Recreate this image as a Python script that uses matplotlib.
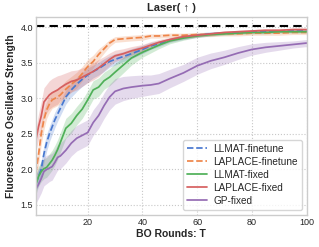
import numpy as np
import matplotlib
matplotlib.use("Agg")
import matplotlib.pyplot as plt
import seaborn as sns

sns.set_theme(style="whitegrid")
plt.rcParams['font.family'] = ['Liberation Sans', 'DejaVu Sans']

# BO rounds
rounds = [1, 2, 3, 4, 5, 6, 7, 8, 9, 10, 12, 14, 16, 18, 20, 22, 24, 26, 28, 30,
          33, 36, 40, 43, 46, 50, 55, 60, 65, 70, 75, 80, 85, 90, 95, 100]

llmat_ft = [1.80, 1.90, 2.00, 2.22, 2.38, 2.50, 2.60, 2.70, 2.78, 2.86, 3.02, 3.12, 3.20, 3.27, 3.33, 3.38, 3.42, 3.47, 3.52, 3.55,
            3.59, 3.63, 3.69, 3.74, 3.77, 3.82, 3.86, 3.89, 3.91, 3.92, 3.93, 3.94, 3.94, 3.95, 3.95, 3.95]
llmat_ft_sd = [0.12, 0.12, 0.12, 0.12, 0.12, 0.11, 0.11, 0.11, 0.10, 0.10, 0.10, 0.10, 0.10, 0.10, 0.10, 0.09, 0.09, 0.09, 0.08, 0.08,
               0.07, 0.07, 0.06, 0.05, 0.04, 0.03, 0.03, 0.03, 0.03, 0.02, 0.02, 0.02, 0.02, 0.02, 0.02, 0.02]

laplace_ft = [1.95, 2.20, 2.50, 2.70, 2.84, 2.92, 2.98, 3.00, 3.02, 3.05, 3.13, 3.20, 3.26, 3.35, 3.45, 3.52, 3.62, 3.70, 3.78, 3.83,
              3.84, 3.85, 3.86, 3.88, 3.88, 3.89, 3.89, 3.90, 3.90, 3.91, 3.91, 3.92, 3.92, 3.92, 3.93, 3.93]
laplace_ft_sd = [0.15, 0.15, 0.15, 0.14, 0.12, 0.12, 0.12, 0.12, 0.12, 0.12, 0.12, 0.11, 0.11, 0.10, 0.10, 0.09, 0.08, 0.06, 0.05, 0.04,
                 0.04, 0.04, 0.04, 0.03, 0.03, 0.03, 0.03, 0.03, 0.03, 0.03, 0.03, 0.03, 0.03, 0.03, 0.03, 0.03]

llmat_fx = [1.78, 1.90, 1.97, 2.01, 2.03, 2.08, 2.13, 2.20, 2.28, 2.38, 2.58, 2.65, 2.76, 2.85, 2.98, 3.12, 3.16, 3.25, 3.30, 3.37,
            3.47, 3.57, 3.65, 3.70, 3.75, 3.81, 3.85, 3.88, 3.90, 3.91, 3.92, 3.93, 3.93, 3.94, 3.94, 3.94]
llmat_fx_sd = [0.14, 0.14, 0.14, 0.14, 0.14, 0.14, 0.14, 0.14, 0.14, 0.14, 0.14, 0.14, 0.13, 0.13, 0.13, 0.13, 0.13, 0.12, 0.12, 0.12,
               0.11, 0.10, 0.07, 0.06, 0.05, 0.04, 0.03, 0.02, 0.02, 0.02, 0.02, 0.02, 0.02, 0.02, 0.02, 0.02]

laplace_fx = [2.40, 2.60, 2.75, 2.95, 3.00, 3.05, 3.08, 3.10, 3.12, 3.15, 3.20, 3.24, 3.26, 3.30, 3.34, 3.38, 3.43, 3.49, 3.55, 3.60,
              3.63, 3.67, 3.71, 3.75, 3.79, 3.83, 3.87, 3.89, 3.91, 3.93, 3.94, 3.95, 3.96, 3.96, 3.97, 3.97]
laplace_fx_sd = [0.15, 0.18, 0.20, 0.20, 0.20, 0.20, 0.20, 0.20, 0.20, 0.18, 0.16, 0.15, 0.14, 0.13, 0.12, 0.12, 0.12, 0.10, 0.09, 0.08,
                 0.07, 0.06, 0.05, 0.05, 0.04, 0.03, 0.03, 0.025, 0.02, 0.02, 0.02, 0.02, 0.02, 0.02, 0.02, 0.02]

gp_fx = [1.72, 1.79, 1.87, 1.97, 2.00, 2.02, 2.04, 2.10, 2.17, 2.19, 2.27, 2.37, 2.44, 2.48, 2.52, 2.66, 2.76, 2.90, 3.02, 3.10,
         3.14, 3.16, 3.18, 3.19, 3.21, 3.28, 3.36, 3.46, 3.53, 3.58, 3.64, 3.69, 3.72, 3.74, 3.76, 3.78]
gp_fx_sd = [0.20, 0.20, 0.20, 0.20, 0.20, 0.19, 0.19, 0.18, 0.18, 0.18, 0.18, 0.18, 0.18, 0.18, 0.18, 0.18, 0.18, 0.18, 0.18, 0.18,
            0.17, 0.16, 0.15, 0.14, 0.14, 0.13, 0.12, 0.12, 0.11, 0.10, 0.09, 0.08, 0.07, 0.06, 0.05, 0.05]

best_value = 4.02

pal = sns.color_palette("muted")
series = [
    ("LLMAT-finetune", llmat_ft, llmat_ft_sd, pal[0], "--"),
    ("LAPLACE-finetune", laplace_ft, laplace_ft_sd, pal[1], "--"),
    ("LLMAT-fixed", llmat_fx, llmat_fx_sd, "#4fb058", "-"),
    ("LAPLACE-fixed", laplace_fx, laplace_fx_sd, pal[3], "-"),
    ("GP-fixed", gp_fx, gp_fx_sd, pal[4], "-"),
]

fig = plt.figure(figsize=(3.19, 2.47), dpi=100)
ax = fig.add_axes([0.112, 0.130, 0.849, 0.802])

x = np.array(rounds)
for name, m, s, c, ls in series:
    m = np.array(m)
    s = np.array(s)
    ax.fill_between(x, m - s, m + s, color=c, alpha=0.25, lw=0)
    ax.plot(x, m, ls, color=c, lw=1.25, label=name)

ax.axhline(best_value, color='black', ls='--', lw=1.5, dashes=(4, 2.5))

ax.set_xlim(1, 100)
ax.set_ylim(1.36, 4.15)
ax.set_xticks([20, 40, 60, 80, 100])
ax.set_yticks([1.5, 2.0, 2.5, 3.0, 3.5, 4.0])
ax.tick_params(labelsize=6.5, pad=2, length=0)
ax.grid(True, ls=':', lw=0.8, color='#c8c8c8')
for sp in ax.spines.values():
    sp.set_color('#cccccc')
    sp.set_linewidth(1.0)

ax.set_title("Laser( \u2191 )", fontsize=8, fontweight='bold', pad=4)
ax.set_xlabel("BO Rounds: T", fontsize=7.5, fontweight='bold', labelpad=2)
ax.set_ylabel("Fluorescence Oscillator Strength", fontsize=7.5, fontweight='bold', labelpad=3)

ax.legend(loc='lower right', fontsize=7.2, handlelength=2.0, labelspacing=0.3,
          borderpad=0.4, handletextpad=0.6, frameon=True)

fig.savefig("out.png", dpi=100)
